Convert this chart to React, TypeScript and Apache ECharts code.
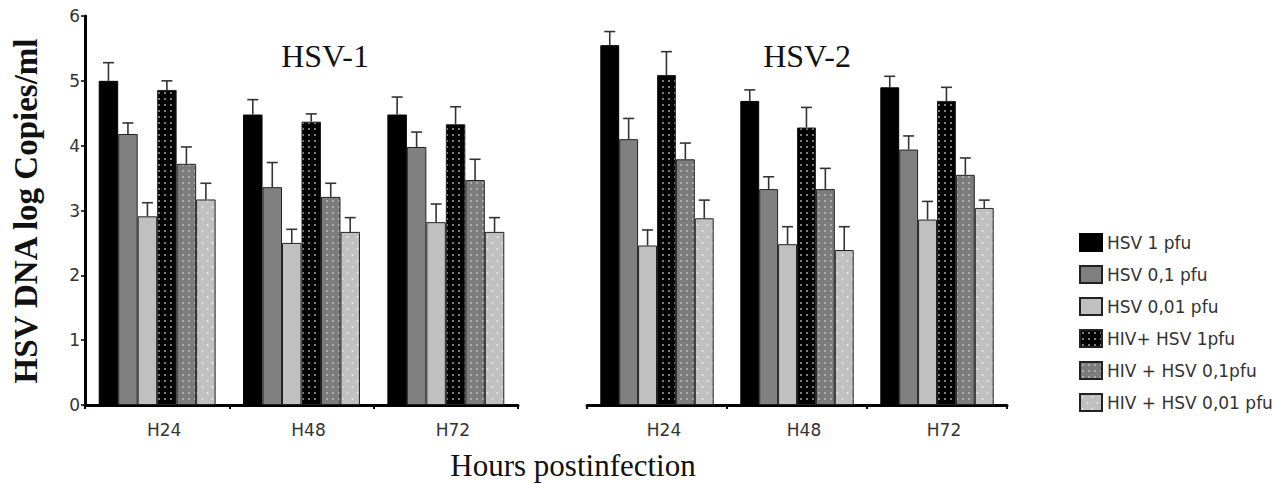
import React, { useEffect, useRef } from "react";
import * as echarts from "echarts";

// ---- data ----
const categories = ["H24", "H48", "H72"];
const seriesNames = [
  "HSV 1 pfu",
  "HSV 0,1 pfu",
  "HSV 0,01 pfu",
  "HIV+ HSV 1pfu",
  "HIV + HSV 0,1pfu",
  "HIV + HSV 0,01 pfu",
];
const panelTitles = ["HSV-1", "HSV-2"];
const yMin = 0;
const yMax = 6;
const yInterval = 1;

// HSV-1 panel values (log copies/ml) and upper error
const hsv1_1pfu = [5.0, 4.48, 4.48];
const hsv1_01pfu = [4.18, 3.36, 3.98];
const hsv1_001pfu = [2.91, 2.5, 2.82];
const hsv1_hiv_1pfu = [4.86, 4.37, 4.33];
const hsv1_hiv_01pfu = [3.72, 3.21, 3.47];
const hsv1_hiv_001pfu = [3.17, 2.67, 2.67];

const hsv1_1pfu_err = [0.28, 0.23, 0.27];
const hsv1_01pfu_err = [0.17, 0.38, 0.23];
const hsv1_001pfu_err = [0.21, 0.21, 0.28];
const hsv1_hiv_1pfu_err = [0.14, 0.12, 0.27];
const hsv1_hiv_01pfu_err = [0.26, 0.21, 0.32];
const hsv1_hiv_001pfu_err = [0.25, 0.22, 0.22];

// HSV-2 panel values and upper error
const hsv2_1pfu = [5.55, 4.69, 4.9];
const hsv2_01pfu = [4.1, 3.33, 3.94];
const hsv2_001pfu = [2.46, 2.48, 2.86];
const hsv2_hiv_1pfu = [5.09, 4.28, 4.69];
const hsv2_hiv_01pfu = [3.79, 3.33, 3.55];
const hsv2_hiv_001pfu = [2.88, 2.39, 3.04];

const hsv2_1pfu_err = [0.21, 0.17, 0.17];
const hsv2_01pfu_err = [0.32, 0.19, 0.21];
const hsv2_001pfu_err = [0.24, 0.27, 0.28];
const hsv2_hiv_1pfu_err = [0.36, 0.31, 0.21];
const hsv2_hiv_01pfu_err = [0.25, 0.32, 0.26];
const hsv2_hiv_001pfu_err = [0.28, 0.36, 0.12];

const panelValues = [
  [hsv1_1pfu, hsv1_01pfu, hsv1_001pfu, hsv1_hiv_1pfu, hsv1_hiv_01pfu, hsv1_hiv_001pfu],
  [hsv2_1pfu, hsv2_01pfu, hsv2_001pfu, hsv2_hiv_1pfu, hsv2_hiv_01pfu, hsv2_hiv_001pfu],
];
const panelErrors = [
  [hsv1_1pfu_err, hsv1_01pfu_err, hsv1_001pfu_err, hsv1_hiv_1pfu_err, hsv1_hiv_01pfu_err, hsv1_hiv_001pfu_err],
  [hsv2_1pfu_err, hsv2_01pfu_err, hsv2_001pfu_err, hsv2_hiv_1pfu_err, hsv2_hiv_01pfu_err, hsv2_hiv_001pfu_err],
];

const SANS = "'DejaVu Sans', Verdana, sans-serif";
const SERIF = "'Liberation Serif', 'Times New Roman', serif";
const CAT_GAP = 0.19;

function makePattern(bg: string, dot: string, w: number, h: number, pts: number[][], r: number) {
  const c = document.createElement("canvas");
  c.width = w;
  c.height = h;
  const ctx = c.getContext("2d")!;
  ctx.fillStyle = bg;
  ctx.fillRect(0, 0, w, h);
  ctx.fillStyle = dot;
  pts.forEach(([x, y]) => {
    ctx.beginPath();
    ctx.arc(x, y, r, 0, Math.PI * 2);
    ctx.fill();
  });
  return { image: c, repeat: "repeat", imageWidth: w, imageHeight: h };
}

export default function App() {
  const ref = useRef<HTMLDivElement>(null);

  useEffect(() => {
    if (!ref.current) return;
    const chart = echarts.init(ref.current, null, { renderer: "svg" });

    const fills: any[] = [
      "#000000",
      "#808080",
      "#c0c0c0",
      makePattern("#000000", "#b8b8b8", 6, 6, [[3, 3]], 0.9),
      makePattern("#7c7c7c", "#c4c4c4", 6, 6, [[3, 3]], 0.9),
      makePattern("#c0c0c0", "#e8e8e8", 10, 12, [[2.5, 3], [7.5, 9]], 1),
    ];

    const series: any[] = [];
    panelValues.forEach((vals, g) => {
      vals.forEach((arr, i) => {
        series.push({
          type: "bar",
          name: seriesNames[i],
          xAxisIndex: g,
          yAxisIndex: g,
          data: arr,
          barGap: "0%",
          barCategoryGap: CAT_GAP * 100 + "%",
          itemStyle: {
            color: fills[i],
            borderColor: i === 0 ? "#000" : "#222",
            borderWidth: 1,
          },
          emphasis: { disabled: true },
          z: 2,
        });
      });
      const errData: number[][] = [];
      vals.forEach((arr, i) =>
        arr.forEach((v, c) => errData.push([c, i, v, panelErrors[g][i][c]]))
      );
      series.push({
        type: "custom",
        name: "err" + g,
        xAxisIndex: g,
        yAxisIndex: g,
        data: errData,
        encode: { x: 0, y: 2 },
        z: 5,
        silent: true,
        renderItem: (params: any, api: any) => {
          const c = api.value(0);
          const i = api.value(1);
          const v = api.value(2);
          const e = api.value(3);
          const catW = api.size([1, 0])[0];
          const bw = (catW * (1 - CAT_GAP)) / 6;
          const cx = api.coord([c, 0])[0] + (i - 2.5) * bw;
          const y0 = api.coord([c, v])[1];
          const y1 = api.coord([c, v + e])[1];
          const st = { stroke: "#333", lineWidth: 1.6 };
          return {
            type: "group",
            children: [
              { type: "line", shape: { x1: cx, y1: y0, x2: cx, y2: y1 }, style: st },
              { type: "line", shape: { x1: cx - 5.5, y1: y1, x2: cx + 5.5, y2: y1 }, style: st },
            ],
          };
        },
      });
    });

    const xAxisBase = {
      type: "category",
      data: categories,
      axisLine: { lineStyle: { color: "#000", width: 3 } },
      axisTick: { show: true, length: 4, lineStyle: { color: "#000", width: 2 } },
      axisLabel: {
        color: "#333",
        fontSize: 17,
        fontFamily: SANS,
        margin: 16,
        padding: [0, 0, 0, 14],
      },
      splitLine: { show: false },
    };

    const option: any = {
      animation: false,
      backgroundColor: "#ffffff",
      grid: [
        { left: 85, top: 16, width: 433, height: 389 },
        { left: 587, top: 16, width: 420, height: 389 },
      ],
      xAxis: [
        { ...xAxisBase, gridIndex: 0 },
        { ...xAxisBase, gridIndex: 1 },
      ],
      yAxis: [
        {
          gridIndex: 0,
          type: "value",
          min: yMin,
          max: yMax,
          interval: yInterval,
          axisLine: { show: true, lineStyle: { color: "#000", width: 3 } },
          axisTick: { show: true, length: 4, lineStyle: { color: "#000", width: 1.5 } },
          splitLine: { show: false },
          axisLabel: {
            color: "#333",
            fontSize: 17,
            fontFamily: SANS,
            margin: 5,
            padding: [10, 0, 0, 0],
          },
        },
        {
          gridIndex: 1,
          type: "value",
          min: yMin,
          max: yMax,
          interval: yInterval,
          show: false,
          splitLine: { show: false },
        },
      ],
      legend: {
        data: seriesNames,
        orient: "vertical",
        left: 1074,
        top: 228,
        itemWidth: 22,
        itemHeight: 17,
        itemGap: 13,
        icon: "rect",
        selectedMode: false,
        textStyle: { fontSize: 17, fontFamily: SANS, color: "#333" },
      },
      graphic: [
        {
          type: "text",
          x: 325,
          y: 55.5,
          style: {
            text: panelTitles[0],
            fontSize: 32,
            fontFamily: SERIF,
            fill: "#111",
            align: "center",
            verticalAlign: "middle",
          },
        },
        {
          type: "text",
          x: 807,
          y: 55.5,
          style: {
            text: panelTitles[1],
            fontSize: 32,
            fontFamily: SERIF,
            fill: "#111",
            align: "center",
            verticalAlign: "middle",
          },
        },
        {
          type: "text",
          x: 26,
          y: 211,
          rotation: Math.PI / 2,
          style: {
            text: "HSV DNA log Copies/ml",
            fontSize: 33,
            fontWeight: "bold",
            fontFamily: SERIF,
            fill: "#111",
            align: "center",
            verticalAlign: "middle",
          },
        },
        {
          type: "text",
          x: 573,
          y: 465,
          style: {
            text: "Hours postinfection",
            fontSize: 31,
            fontFamily: SERIF,
            fill: "#111",
            align: "center",
            verticalAlign: "middle",
          },
        },
      ],
      series,
    };

    chart.setOption(option);
    return () => {
      chart.dispose();
    };
  }, []);

  return (
    <div
      ref={ref}
      style={{ position: "fixed", left: 0, top: 0, width: 1277, height: 484 }}
    />
  );
}
